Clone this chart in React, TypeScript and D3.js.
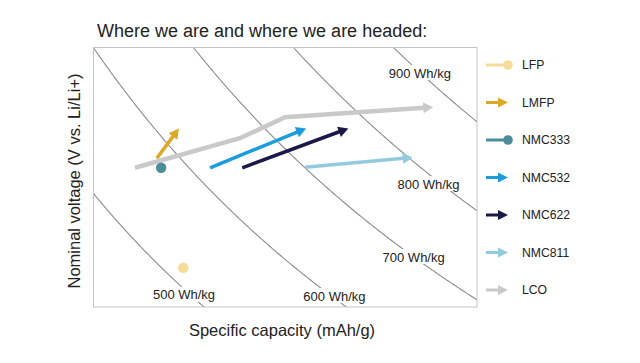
import React from "react";
import * as d3 from "d3";

const W = 640, H = 363;
const capDomain = [125, 205];
const voltDomain = [3.375, 4.8];

const energies = [500, 600, 700, 800, 900];
const energyLabelCap = [143.96, 175.3, 191.8, 194.9, 193.1];
const energyLabelVolt = [3.441, 3.435, 3.649, 4.049, 4.6575];

const pointSeries = [
  { name: "LFP", color: "#f5dc98", pt: [143.8, 3.59] },
  { name: "NMC333", color: "#4b8d98", pt: [139.2, 4.138] },
];

const arrowSeries = [
  { name: "LMFP", color: "#dba926", w: 3.5, pts: [[138.3, 4.19], [142.9, 4.354]] },
  { name: "NMC532", color: "#1b9ddb", w: 3.5, pts: [[149.4, 4.138], [169.4, 4.354]] },
  { name: "NMC622", color: "#1b1947", w: 3.5, pts: [[156.1, 4.138], [178.2, 4.354]] },
  { name: "NMC811", color: "#92cbdd", w: 3.5, pts: [[169.2, 4.141], [191.6, 4.195]] },
  { name: "LCO", color: "#c9c9c9", w: 4.5, pts: [[133.75, 4.138], [155.6, 4.3], [165, 4.415], [195.9, 4.47]] },
];

const legendOrder = ["LFP", "LMFP", "NMC333", "NMC532", "NMC622", "NMC811", "LCO"];
const legendColors = ["#f5dc98", "#dba926", "#4b8d98", "#1b9ddb", "#1b1947", "#92cbdd", "#c9c9c9"];
const legendKinds = ["dot", "arrow", "dot", "arrow", "arrow", "arrow", "arrow"];

const FONT = "Liberation Sans, Arial, sans-serif";

function arrowGeom(p: number[][], headLen: number, headHalf: number) {
  const n = p.length;
  const [x1, y1] = p[n - 2];
  const [x2, y2] = p[n - 1];
  const dx = x2 - x1, dy = y2 - y1;
  const L = Math.hypot(dx, dy);
  const ux = dx / L, uy = dy / L;
  const bx = x2 - ux * headLen, by = y2 - uy * headLen;
  const shaft = p.slice(0, n - 1).concat([[bx + ux * 1, by + uy * 1]]);
  const head = [
    [x2, y2],
    [bx - uy * headHalf, by + ux * headHalf],
    [bx + uy * headHalf, by - ux * headHalf],
  ];
  return { shaft, head };
}

export default function App() {
  const x = d3.scaleLinear().domain(capDomain).range([93, 477]);
  const y = d3.scaleLinear().domain(voltDomain).range([307, 47]);
  const line = d3.line<number[]>().x((d) => d[0]).y((d) => d[1]);

  const contours = energies.map((E) => {
    const cs = d3.range(capDomain[0], capDomain[1] + 0.01, 0.25);
    const pts = cs
      .map((c) => [c, E / c])
      .filter((d) => d[1] >= voltDomain[0] - 0.02 && d[1] <= voltDomain[1] + 0.02)
      .map((d) => [x(d[0]), y(d[1])]);
    return pts;
  });

  return (
    <svg width={W} height={H} style={{ position: "absolute", left: 0, top: 0, background: "#fff" }}>
      <defs>
        <clipPath id="plotclip">
          <rect x={93} y={47} width={384} height={260} />
        </clipPath>
      </defs>
      <rect x={0} y={0} width={W} height={H} fill="#fff" />
      <text x={97} y={37} fontFamily={FONT} fontSize={18} fill="#222">
        Where we are and where we are headed:
      </text>
      <g clipPath="url(#plotclip)">
        {contours.map((pts, i) => (
          <path key={i} d={line(pts) || ""} fill="none" stroke="#8c8c8c" strokeWidth={1.1} />
        ))}
      </g>
      {energies.map((E, i) => {
        const cx = x(energyLabelCap[i]);
        const cy = y(energyLabelVolt[i]);
        return (
          <g key={"l" + E}>
            <rect x={cx - 33} y={cy - 8} width={66} height={15} fill="#fff" />
            <text x={cx} y={cy + 4.5} textAnchor="middle" fontFamily={FONT} fontSize={13} fill="#222">
              {E} Wh/kg
            </text>
          </g>
        );
      })}
      <rect x={93.5} y={47.5} width={383.5} height={259.5} fill="none" stroke="#c4c4c4" strokeWidth={1} />
      {arrowSeries.map((s) => {
        const p = s.pts.map((d) => [x(d[0]), y(d[1])]);
        const g = arrowGeom(p, 10, 5.5);
        return (
          <g key={s.name}>
            <path d={line(g.shaft) || ""} fill="none" stroke={s.color} strokeWidth={s.w} strokeLinejoin="miter" />
            <polygon points={g.head.map((d) => d.join(",")).join(" ")} fill={s.color} />
          </g>
        );
      })}
      {pointSeries.map((s) => (
        <circle key={s.name} cx={x(s.pt[0])} cy={y(s.pt[1])} r={5.2} fill={s.color} />
      ))}
      <text x={282} y={336} textAnchor="middle" fontFamily={FONT} fontSize={16.5} fill="#222">
        Specific capacity  (mAh/g)
      </text>
      <text
        transform="translate(79.5,181) rotate(-90)"
        textAnchor="middle"
        fontFamily={FONT}
        fontSize={16.5}
        fill="#222"
      >
        Nominal voltage (V vs. Li/Li+)
      </text>
      {legendOrder.map((name, i) => {
        const ly = 65 + i * 37.5;
        const c = legendColors[i];
        return (
          <g key={name}>
            {legendKinds[i] === "dot" ? (
              <g>
                <line x1={486} x2={506} y1={ly} y2={ly} stroke={c} strokeWidth={3} />
                <circle cx={508} cy={ly} r={4.8} fill={c} />
              </g>
            ) : (
              <g>
                <line x1={486} x2={499} y1={ly} y2={ly} stroke={c} strokeWidth={3} />
                <polygon points={`${508},${ly} ${498},${ly - 5} ${498},${ly + 5}`} fill={c} />
              </g>
            )}
            <text x={522} y={ly + 4.3} fontFamily={FONT} fontSize={12.2} fill="#222">
              {name}
            </text>
          </g>
        );
      })}
    </svg>
  );
}
